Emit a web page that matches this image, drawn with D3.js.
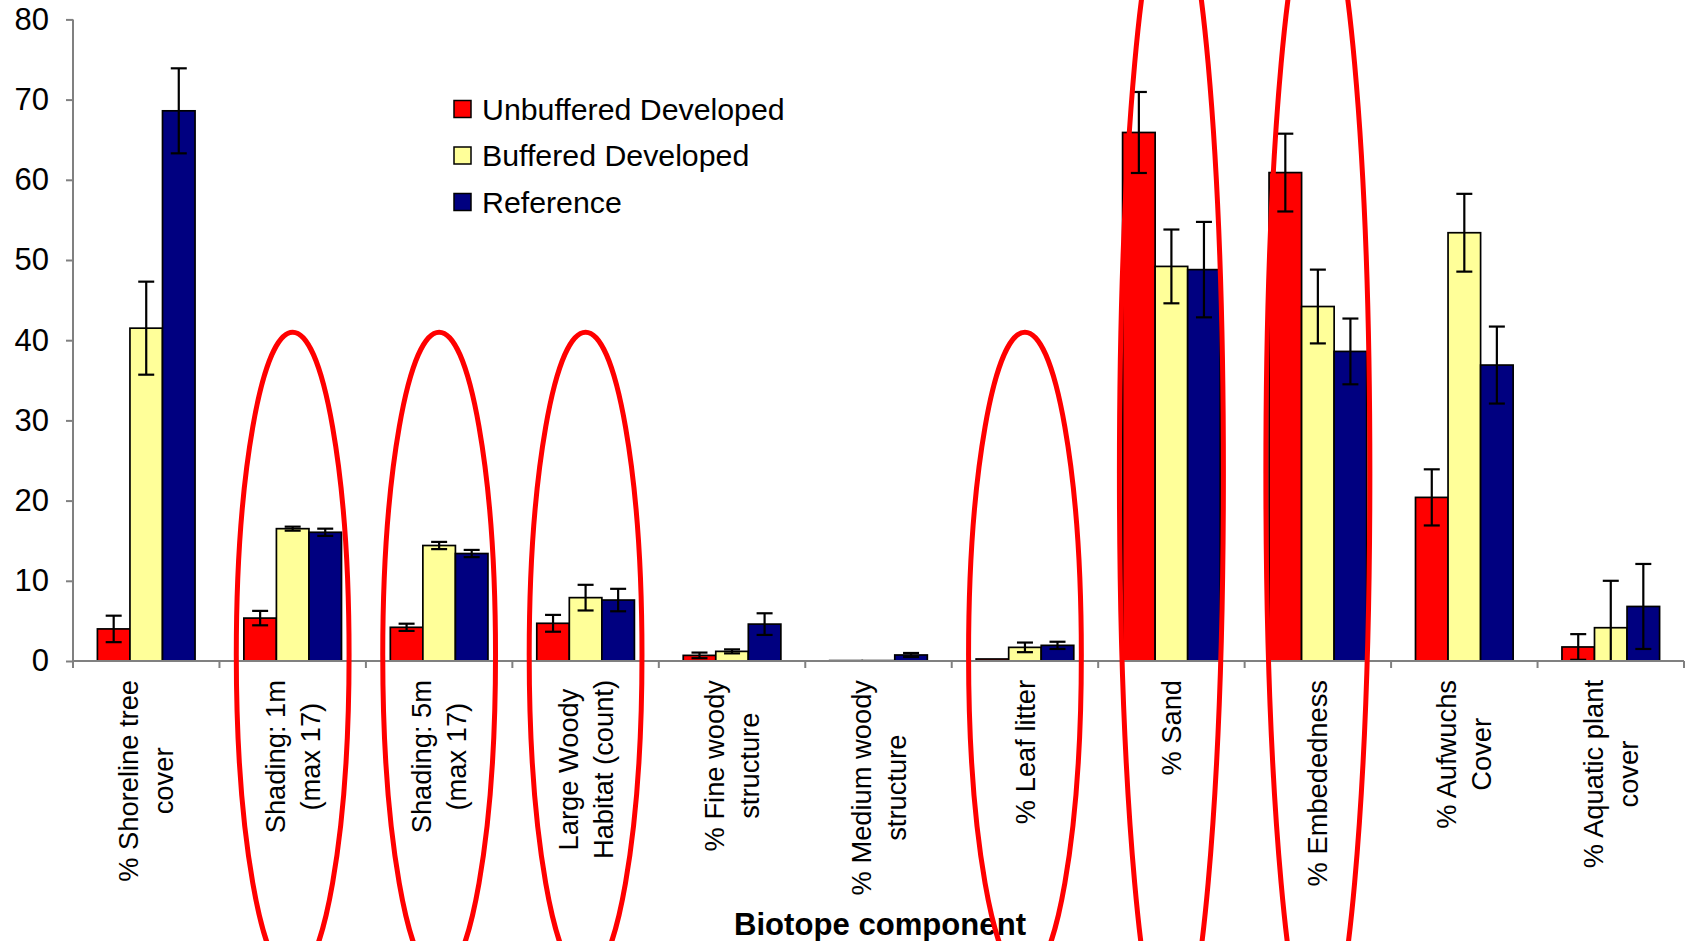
<!DOCTYPE html>
<html><head><meta charset="utf-8">
<script src="https://cdn.jsdelivr.net/npm/d3@7"></script>
<style>html,body{margin:0;padding:0;background:#fff;overflow:hidden}</style>
</head><body>
<svg id="chart" width="1686" height="941"></svg>
<script>
// ---- data ----
const categories = [
  "% Shoreline tree|cover",
  "Shading: 1m|(max 17)",
  "Shading: 5m|(max 17)",
  "Large Woody|Habitat (count)",
  "% Fine woody|structure",
  "% Medium woody|structure",
  "% Leaf litter",
  "% Sand",
  "% Embededness",
  "% Aufwuchs|Cover",
  "% Aquatic plant|cover"
];
const seriesNames = ["Unbuffered Developed", "Buffered Developed", "Reference"];
const unbuffered    = [4.0, 5.35, 4.2, 4.7, 0.7, 0.05, 0.25, 65.9, 60.9, 20.4, 1.75];
const unbufferedErr = [1.65, 0.9, 0.45, 1.05, 0.35, 0, 0, 5.05, 4.85, 3.5, 1.6];
const buffered      = [41.5, 16.5, 14.4, 7.9, 1.2, 0.05, 1.7, 49.2, 44.2, 53.4, 4.15];
const bufferedErr   = [5.8, 0.25, 0.45, 1.6, 0.25, 0, 0.6, 4.6, 4.6, 4.85, 5.85];
const reference     = [68.6, 16.05, 13.4, 7.6, 4.6, 0.75, 1.95, 48.8, 38.6, 36.9, 6.8];
const referenceErr  = [5.3, 0.45, 0.45, 1.4, 1.35, 0.25, 0.45, 5.95, 4.1, 4.8, 5.3];
const yTicks = [0, 10, 20, 30, 40, 50, 60, 70, 80];
const xTitle = "Biotope component";
// highlighted (circled) categories
const circledShort = [1, 2, 3, 6];
const circledTall = [7, 8];

// ---- drawing ----
const colors = ["#FF0000", "#FFFF99", "#000080"];
const values = [unbuffered, buffered, reference];
const errs = [unbufferedErr, bufferedErr, referenceErr];

const svg = d3.select("#chart");
const mLeft = 73, mRight = 1684, mTop = 19.4, mBottom = 661;

const x = d3.scaleBand().domain(categories).range([mLeft, mRight]).paddingInner(0).paddingOuter(0);
const x1 = d3.scaleBand().domain(seriesNames).range([0, x.bandwidth()]).paddingInner(0).paddingOuter(0.75);
const y = d3.scaleLinear().domain([0, 80]).range([mBottom, mTop]);

const rows = [];
categories.forEach((c, i) => seriesNames.forEach((s, j) => rows.push({c, s, j, v: values[j][i], e: errs[j][i]})));

// bars
svg.append("g").selectAll("rect").data(rows).join("rect")
  .attr("x", d => x(d.c) + x1(d.s))
  .attr("y", d => y(d.v))
  .attr("width", x1.bandwidth())
  .attr("height", d => y(0) - y(d.v))
  .attr("fill", d => colors[d.j])
  .attr("stroke", "#000").attr("stroke-width", 1.7);

// error bars
const eg = svg.append("g").attr("stroke", "#000").attr("stroke-width", 2.2);
rows.filter(d => d.e > 0).forEach(d => {
  const cx = x(d.c) + x1(d.s) + x1.bandwidth() / 2;
  const hi = d.v + d.e, lo = Math.max(0, d.v - d.e);
  eg.append("line").attr("x1", cx).attr("x2", cx).attr("y1", y(hi)).attr("y2", y(lo));
  eg.append("line").attr("x1", cx - 8).attr("x2", cx + 8).attr("y1", y(hi)).attr("y2", y(hi));
  if (d.v - d.e >= 0) eg.append("line").attr("x1", cx - 8).attr("x2", cx + 8).attr("y1", y(lo)).attr("y2", y(lo));
});

// y axis
const yAxis = svg.append("g").attr("transform", `translate(${mLeft},0)`)
  .call(d3.axisLeft(y).tickValues(yTicks).tickSize(7).tickPadding(17).tickFormat(d3.format("d")));
yAxis.select(".domain").attr("stroke", "#808080").attr("stroke-width", 2).attr("d", `M0,${y(80)}V${y(0)}`);
yAxis.selectAll(".tick line").attr("stroke", "#808080").attr("stroke-width", 2);
yAxis.selectAll(".tick text").attr("font-family", "Liberation Sans, Arial, sans-serif").attr("font-size", 31).attr("fill", "#000");

// x axis line and tick marks between categories
const xg = svg.append("g");
xg.append("line").attr("x1", mLeft).attr("x2", mRight).attr("y1", mBottom).attr("y2", mBottom)
  .attr("stroke", "#808080").attr("stroke-width", 2);
const bounds = categories.map(c => x(c)).concat([x(categories[categories.length - 1]) + x.bandwidth()]);
xg.selectAll("line.t").data(bounds).join("line").attr("class", "t")
  .attr("x1", d => d).attr("x2", d => d).attr("y1", mBottom).attr("y2", mBottom + 7)
  .attr("stroke", "#808080").attr("stroke-width", 2);

// category labels (rotated)
const labelTop = 680;
categories.forEach(c => {
  const lines = c.split("|");
  const cx = x(c) + x.bandwidth() / 2;
  const g = svg.append("g").attr("transform", `translate(${cx},${labelTop}) rotate(-90)`);
  const texts = lines.map((ln, k) => g.append("text")
    .attr("font-family", "Liberation Sans, Arial, sans-serif").attr("font-size", 27.3)
    .attr("text-anchor", "middle").attr("dy", "0.35em")
    .attr("y", (k - (lines.length - 1) / 2) * 35)
    .text(ln));
  const maxW = d3.max(texts, t => t.node().getComputedTextLength());
  texts.forEach(t => t.attr("x", -maxW / 2));
});

// axis title
svg.append("text").attr("x", 880).attr("y", 935)
  .attr("text-anchor", "middle").attr("font-family", "Liberation Sans, Arial, sans-serif")
  .attr("font-weight", "bold").attr("font-size", 32)
  .attr("textLength", 292).attr("lengthAdjust", "spacingAndGlyphs")
  .text(xTitle);

// legend
const lg = svg.append("g").attr("transform", "translate(454,109)");
seriesNames.forEach((s, j) => {
  const row = lg.append("g").attr("transform", `translate(0,${j * 46.5})`);
  row.append("rect").attr("x", 0).attr("y", -8.5).attr("width", 17).attr("height", 17)
    .attr("fill", colors[j]).attr("stroke", "#000").attr("stroke-width", 1.5);
  row.append("text").attr("x", 28).attr("y", 0).attr("dy", "0.36em")
    .attr("font-family", "Liberation Sans, Arial, sans-serif").attr("font-size", 30.3).text(s);
});

// red ellipses
const eg2 = svg.append("g").attr("fill", "none").attr("stroke", "#FF0000").attr("stroke-width", 5);
circledShort.forEach(i => {
  const c = categories[i];
  eg2.append("ellipse").attr("cx", x(c) + x.bandwidth() / 2).attr("cy", y(0.75))
    .attr("rx", x.bandwidth() * 0.385).attr("ry", y(0.75) - y(41));
});
circledTall.forEach(i => {
  const c = categories[i];
  eg2.append("ellipse").attr("cx", x(c) + x.bandwidth() / 2).attr("cy", y(23.4))
    .attr("rx", x.bandwidth() * 0.355).attr("ry", y(23.4) - y(95.6));
});
</script>
</body></html>
